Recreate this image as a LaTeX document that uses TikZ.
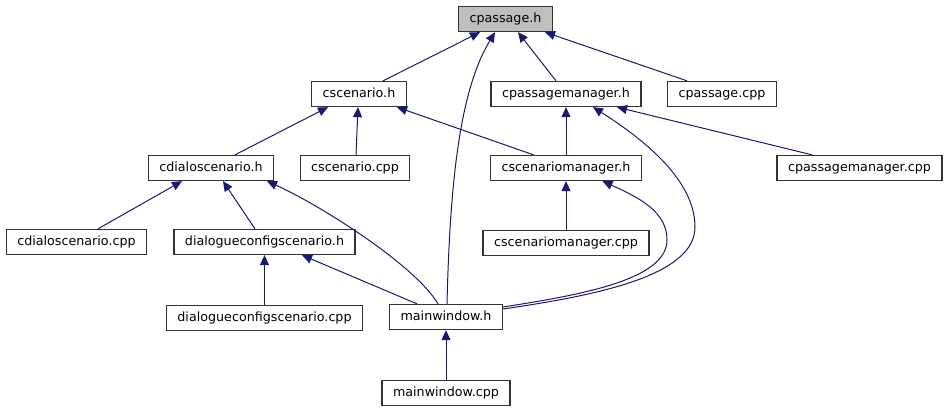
\documentclass[tikz,border=0pt]{standalone}
\usepackage{fontspec}
\setmainfont{DejaVu Sans}
\usepackage{tikz}
\usetikzlibrary{positioning}
\usetikzlibrary{arrows.meta}
\definecolor{depblue}{RGB}{25,25,112}

\begin{document}
\begin{tikzpicture}[x=1pt, y=-1pt,
    file/.style={draw=black!80, line width=1.3pt, fill=white, minimum height=25pt,
        inner xsep=11pt, inner ysep=0pt, text height=9.5pt, text depth=3pt,
        font=\fontsize{12.7}{15}\selectfont},
    dep/.style={draw=depblue, line width=1pt, -{Triangle[length=10pt, width=9pt]}}]

    \useasboundingbox (0,0) rectangle (948,411);

    \node [file, fill=black!25] (cpassageh) at (505.5,19) {cpassage.h};

    \node [file] (cscenarioh) at (359,94) {cscenario.h};
    \node [file] (cpassagemgrh) at (566,94) {cpassagemanager.h};
    \node [file] (cpassagecpp) at (722,94) {cpassage.cpp};

    \node [file] (cdialoh) at (211,168) {cdialoscenario.h};
    \node [file] (cscenariocpp) at (355,168) {cscenario.cpp};
    \node [file] (cscenariomgrh) at (566,168) {cscenariomanager.h};
    \node [file] (cpassagemgrcpp) at (859.5,168) {cpassagemanager.cpp};

    \node [file] (cdialocpp) at (76.5,242) {cdialoscenario.cpp};
    \node [file] (dlgcfgh) at (264.5,242) {dialogueconfigscenario.h};
    \node [file, below=49pt of cscenariomgrh] (cscenariomgrcpp) {cscenariomanager.cpp};

    \node [file, below=49.5pt of dlgcfgh] (dlgcfgcpp) {dialogueconfigscenario.cpp};
    \node [file] (mainwindowh) at (446,317) {mainwindow.h};

    \node [file, below=49.5pt of mainwindowh] (mainwindowcpp) {mainwindow.cpp};

    \draw [dep] ([xshift=24pt]cscenarioh.north) -- ([xshift=-25.5pt]cpassageh.south);
    \draw [dep] ([xshift=1pt]mainwindowh.north) .. controls (450,180) and (460,90) .. ([xshift=-10.5pt]cpassageh.south);
    \draw [dep] ([xshift=-10pt]cpassagemgrh.north) -- ([xshift=12.5pt]cpassageh.south);
    \draw [dep] ([xshift=-35pt]cpassagecpp.north) -- ([xshift=39.5pt]cpassageh.south);

    \draw [dep] ([xshift=24pt]cdialoh.north) -- ([xshift=-31pt]cscenarioh.south);
    \draw [dep] ([xshift=1pt]cscenariocpp.north) -- ([xshift=-1pt]cscenarioh.south);
    \draw [dep] ([xshift=-32.5pt]cscenariomgrh.north) -- ([xshift=38pt]cscenarioh.south);

    \draw [dep] (cscenariomgrh) -- (cpassagemgrh);
    \draw [dep] ([yshift=8pt]mainwindowh.east) .. controls (600,295) and (695,275) .. (695,227)
        .. controls (695,182) and (648,142) .. ([xshift=27pt]cpassagemgrh.south);
    \draw [dep] ([xshift=-47.5pt]cpassagemgrcpp.north) -- ([xshift=51pt]cpassagemgrh.south);

    \draw [dep] ([xshift=21.5pt]cdialocpp.north) -- ([xshift=-29pt]cdialoh.south);
    \draw [dep] ([xshift=-9.5pt]dlgcfgh.north) -- ([xshift=12pt]cdialoh.south);
    \draw [dep] ([xshift=-8pt]mainwindowh.north) .. controls (415,265) and (320,205) .. ([xshift=56pt]cdialoh.south);

    \draw [dep] (cscenariomgrcpp) -- (cscenariomgrh);
    \draw [dep] ([yshift=10pt]mainwindowh.east) .. controls (580,295) and (667,280) .. (667,240)
        .. controls (667,212) and (640,198) .. ([xshift=36.5pt]cscenariomgrh.south);

    \draw [dep] (dlgcfgcpp) -- (dlgcfgh);
    \draw [dep] ([xshift=-29pt]mainwindowh.north) -- ([xshift=37.5pt]dlgcfgh.south);

    \draw [dep] (mainwindowcpp) -- (mainwindowh);

\end{tikzpicture}
\end{document}
